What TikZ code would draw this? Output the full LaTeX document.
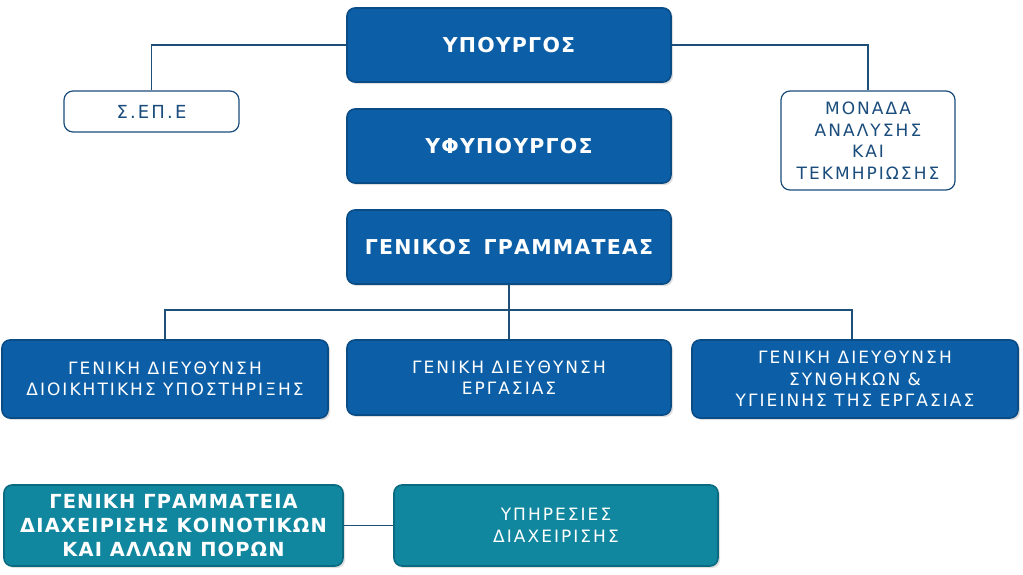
\documentclass[tikz,border=0pt]{standalone}
\usepackage{fontspec}
\setmainfont{DejaVu Sans}
\usetikzlibrary{shadows}
\definecolor{boxblue}{HTML}{0C5FA6}
\definecolor{boxbord}{HTML}{0A4C86}
\definecolor{tealf}{HTML}{11879F}
\definecolor{tealb}{HTML}{0C6A80}
\definecolor{linec}{HTML}{1F4E78}
\definecolor{txtd}{HTML}{1A4C7C}
\newfontfamily\spaced[LetterSpace=12]{DejaVu Sans}
\newfontfamily\spacedb[LetterSpace=6]{DejaVu Sans Bold}
\tikzset{
  x=1pt,y=1pt,
  bluebox/.style={draw=boxbord, line width=1.6pt, fill=boxblue, rounded corners=8pt,
    text=white, align=center, inner sep=0pt,
    drop shadow={opacity=0.25, shadow xshift=2pt, shadow yshift=-2pt}},
  tealbox/.style={bluebox, draw=tealb, fill=tealf},
  whitebox/.style={draw=txtd, line width=1.2pt, fill=white, rounded corners=9pt,
    text=txtd, align=center, inner sep=0pt},
  big/.style={font=\spacedb\fontsize{20.5}{24}\selectfont},
  mid/.style={font=\spaced\fontsize{17}{21.5}\selectfont},
  conn/.style={draw=linec, line width=1.3pt}
}
\begin{document}
\begin{tikzpicture}
\useasboundingbox (0,0) rectangle (1023,-574);
\node[bluebox, big, minimum width=324, minimum height=74] (min) at (509,-45) {ΥΠΟΥΡΓΟΣ};
\node[whitebox, font=\spaced\fontsize{18}{21.5}\selectfont, minimum width=175, minimum height=41] (sepe) at (151.5,-111.5) {Σ.ΕΠ.Ε};
\node[whitebox, mid, minimum width=174, minimum height=99] (mon) at (868,-140.5) {ΜΟΝΑΔΑ\\ΑΝΑΛΥΣΗΣ\\ΚΑΙ\\ΤΕΚΜΗΡΙΩΣΗΣ};
\node[bluebox, big, minimum width=324, minimum height=74] (yfyp) at (509,-146) {ΥΦΥΠΟΥΡΓΟΣ};
\node[bluebox, big, minimum width=324, minimum height=74] (gg) at (509,-247) {ΓΕΝΙΚΟΣ\hspace{4pt} ΓΡΑΜΜΑΤΕΑΣ};
\node[bluebox, mid, minimum width=326, minimum height=78] (gd1) at (165,-379) {ΓΕΝΙΚΗ ΔΙΕΥΘΥΝΣΗ\\ΔΙΟΙΚΗΤΙΚΗΣ ΥΠΟΣΤΗΡΙΞΗΣ};
\node[bluebox, mid, minimum width=324, minimum height=75] (gd2) at (509,-377.5) {ΓΕΝΙΚΗ ΔΙΕΥΘΥΝΣΗ\\ΕΡΓΑΣΙΑΣ};
\node[bluebox, mid, minimum width=326, minimum height=78] (gd3) at (855,-379) {ΓΕΝΙΚΗ ΔΙΕΥΘΥΝΣΗ\\ΣΥΝΘΗΚΩΝ \&\\ΥΓΙΕΙΝΗΣ ΤΗΣ ΕΡΓΑΣΙΑΣ};
\node[tealbox, font=\spacedb\fontsize{19.4}{24}\selectfont, minimum width=339, minimum height=81] (gsec) at (173.5,-525.5) {ΓΕΝΙΚΗ ΓΡΑΜΜΑΤΕΙΑ\\ΔΙΑΧΕΙΡΙΣΗΣ ΚΟΙΝΟΤΙΚΩΝ\\ΚΑΙ ΑΛΛΩΝ ΠΟΡΩΝ};
\node[tealbox, mid, minimum width=324, minimum height=81] (yp) at (556,-525.5) {ΥΠΗΡΕΣΙΕΣ\\ΔΙΑΧΕΙΡΙΣΗΣ};
\coordinate (bus) at (509,-310);
\coordinate (busr) at (852,-310);
\draw[conn] (min.west) -| (sepe.north);
\draw[conn] (min.east) -| (mon.north);
\draw[conn] (gg.south) -- (gd2.north);
\draw[conn] (gd1.north) |- (bus) -- (busr) -- (busr |- gd3.north);
\draw[conn] (gsec.east) -- (yp.west);
\end{tikzpicture}
\end{document}
